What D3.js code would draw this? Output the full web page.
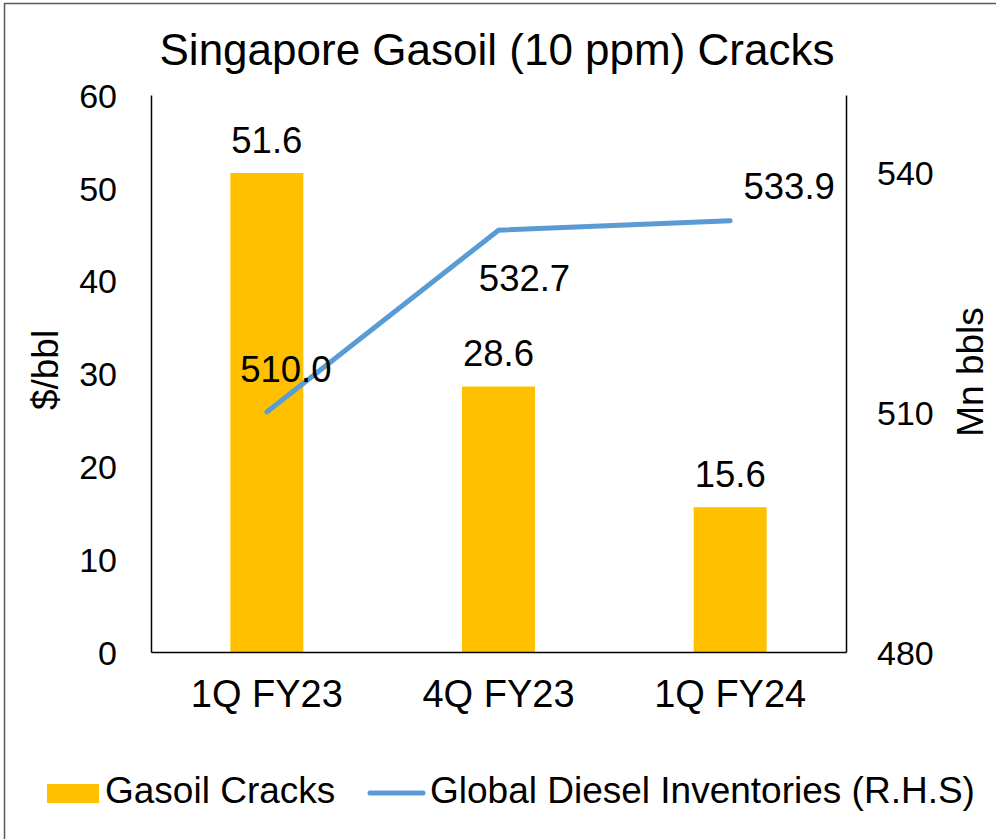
<!DOCTYPE html>
<html><head><meta charset="utf-8">
<script src="https://cdn.jsdelivr.net/npm/d3@7"></script>
<style>body{margin:0;background:#fff}svg text{font-family:"Liberation Sans",Arial,sans-serif;fill:#000}</style>
</head><body>
<svg id="c" width="996" height="839"></svg>
<script>
const categories = ["1Q FY23","4Q FY23","1Q FY24"];
const gasoilCracks = [51.6, 28.6, 15.6];
const dieselInventories = [510.0, 532.7, 533.9];
const leftTicks = [0,10,20,30,40,50,60];
const rightTicks = [480,510,540];

const svg = d3.select("#c");
const W=996,H=839;
svg.append("rect").attr("x",4.5).attr("y",3.5).attr("width",W).attr("height",H)
  .attr("fill","#fff").attr("stroke","#595959").attr("stroke-width",1.5);

const m={l:151,r:846,t:95,b:652};
const x=d3.scaleBand().domain(categories).range([m.l,m.r]);
const yL=d3.scaleLinear().domain([0,60]).range([m.b,m.t]);
const yR=d3.scaleLinear().domain([480,549.6]).range([m.b,m.t]);

svg.append("text").attr("x",497).attr("y",65).attr("text-anchor","middle")
  .attr("font-size",44).text("Singapore Gasoil (10 ppm) Cracks");

// bars
const bw = x.bandwidth()*0.315;
svg.selectAll("rect.bar").data(gasoilCracks).join("rect").attr("class","bar")
  .attr("x",(d,i)=>x(categories[i])+x.bandwidth()/2-bw/2)
  .attr("y",d=>yL(d)).attr("width",bw).attr("height",d=>yL(0)-yL(d)).attr("fill","#FFC000");

// axes
const axL=svg.append("g").attr("transform",`translate(${m.l},0)`)
  .call(d3.axisLeft(yL).tickValues(leftTicks).tickSize(0).tickPadding(34));
const axR=svg.append("g").attr("transform",`translate(${m.r},0)`)
  .call(d3.axisRight(yR).tickValues(rightTicks).tickSize(0).tickPadding(31));
const axB=svg.append("g").attr("transform",`translate(0,${m.b})`)
  .call(d3.axisBottom(x).tickSize(0).tickPadding(0));
[axL,axR,axB].forEach(g=>{
  g.select(".domain").attr("stroke","#000").attr("stroke-width",1.5);
  g.selectAll("text").attr("font-family","Liberation Sans, Arial, sans-serif").attr("fill","#000");
});
axL.selectAll("text").attr("font-size",34).attr("dy","0.36em");
axR.selectAll("text").attr("font-size",34).attr("dy","0.36em");
axB.selectAll("text").attr("font-size",38).attr("dy",null).attr("y",55);

// axis titles
svg.append("text").attr("transform","translate(58,370) rotate(-90)").attr("text-anchor","middle")
  .attr("font-size",37).text("$/bbl");
svg.append("text").attr("transform","translate(983,372) rotate(-90)").attr("text-anchor","middle")
  .attr("font-size",37).text("Mn bbls");

// line
const cx = i=>x(categories[i])+x.bandwidth()/2;
svg.append("path").datum(dieselInventories)
  .attr("d",d3.line().x((d,i)=>cx(i)).y(d=>yR(d)))
  .attr("fill","none").attr("stroke","#5B9BD5").attr("stroke-width",5).attr("stroke-linecap","round");

// bar labels
svg.selectAll("text.bl").data(gasoilCracks).join("text").attr("class","bl")
  .attr("x",(d,i)=>cx(i)).attr("y",d=>yL(d)-20).attr("text-anchor","middle")
  .attr("font-size",36.5).text(d=>d.toFixed(1));

// line labels
const lineLabelOffsets=[[19,-30],[26,61],[59,-22]];
svg.selectAll("text.ll").data(dieselInventories).join("text").attr("class","ll")
  .attr("x",(d,i)=>cx(i)+lineLabelOffsets[i][0]).attr("y",(d,i)=>yR(d)+lineLabelOffsets[i][1])
  .attr("text-anchor","middle").attr("font-size",36.5).text(d=>d.toFixed(1));

// legend
svg.append("rect").attr("x",47).attr("y",784).attr("width",52).attr("height",19).attr("fill","#FFC000");
svg.append("text").attr("x",105).attr("y",803).attr("font-size",37).text("Gasoil Cracks");
svg.append("line").attr("x1",370).attr("x2",423).attr("y1",793).attr("y2",793)
  .attr("stroke","#5B9BD5").attr("stroke-width",5).attr("stroke-linecap","round");
svg.append("text").attr("x",430).attr("y",803).attr("font-size",37).text("Global Diesel Inventories (R.H.S)");
</script>
</body></html>
